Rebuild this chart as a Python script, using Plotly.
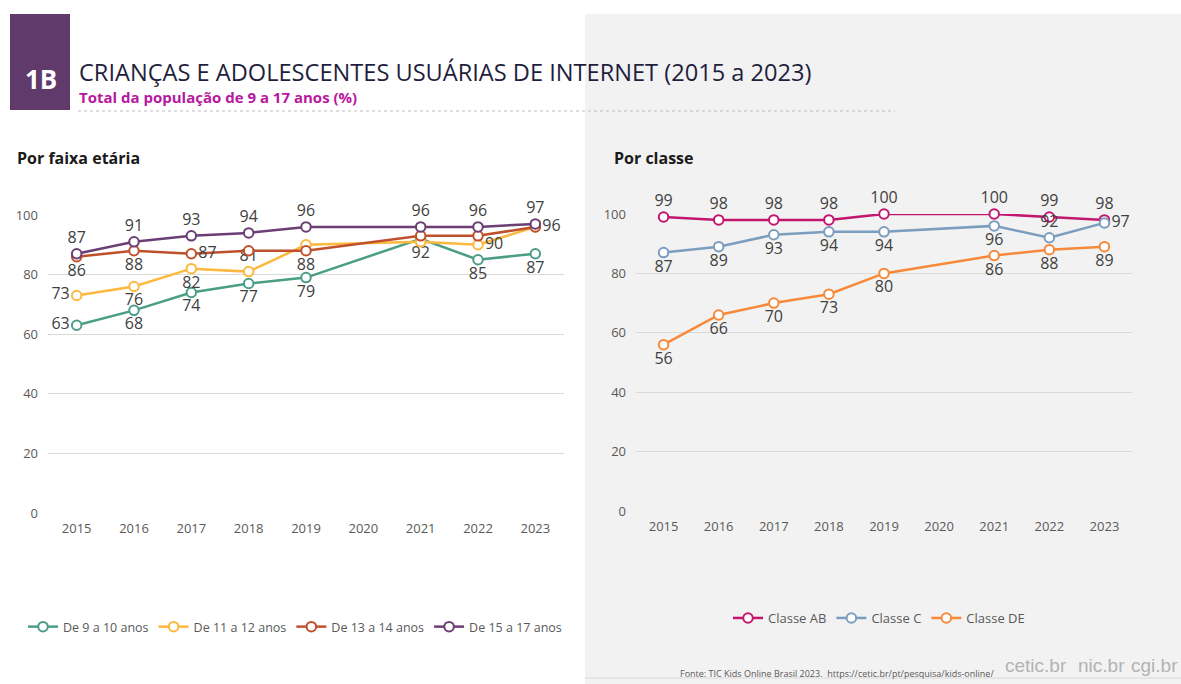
import plotly.graph_objects as go

W, H = 1181, 684

years = [2015, 2016, 2017, 2018, 2019, 2020, 2021, 2022, 2023]

idade_9_10 = [63, 68, 74, 77, 79, None, 92, 85, 87]
idade_11_12 = [73, 76, 82, 81, 90, None, 91, 90, 96]
idade_13_14 = [86, 88, 87, 88, 88, None, 93, 93, 96]
idade_15_17 = [87, 91, 93, 94, 96, None, 96, 96, 97]

classe_ab = [99, 98, 98, 98, 100, None, 100, 99, 98]
classe_c = [87, 89, 93, 94, 94, None, 96, 92, 97]
classe_de = [56, 66, 70, 73, 80, None, 86, 88, 89]

names_idade = ["De 9 a 10 anos", "De 11 a 12 anos", "De 13 a 14 anos", "De 15 a 17 anos"]
names_classe = ["Classe AB", "Classe C", "Classe DE"]

y_ticks = [0, 20, 40, 60, 80, 100]

FONT = "Open Sans, Noto Sans, DejaVu Sans, sans-serif"
LOGO = "Liberation Sans, Arial, sans-serif"


def px(x):
    return x / W


def py(y):
    return 1 - y / H


B, T, L, R, N = "bottom center", "top center", "middle left", "middle right", None

left_series = [
    (idade_9_10, "#4a9e86", [L, B, B, B, B, N, B, B, B], [1, 1, 1, 1, 1, 0, 1, 1, 1]),
    (idade_11_12, "#fdb83e", [L, B, B, T, B, N, B, R, B], [1, 1, 1, 1, 0, 0, 0, 1, 0]),
    (idade_13_14, "#c0502c", [B, B, R, B, B, N, B, B, R], [1, 1, 1, 0, 1, 0, 0, 0, 1]),
    (idade_15_17, "#6b3e74", [T] * 9, [1, 1, 1, 1, 1, 0, 1, 1, 1]),
]
right_series = [
    (classe_ab, "#c2166e", [T] * 9, [1, 1, 1, 1, 1, 0, 1, 1, 1]),
    (classe_c, "#7b9dbe", [B, B, B, B, B, N, B, T, R], [1, 1, 1, 1, 1, 0, 1, 1, 1]),
    (classe_de, "#f7893b", [B] * 9, [1, 1, 1, 1, 1, 0, 1, 1, 1]),
]

fig = go.Figure()


def add_series(series, names, xa, ya, lg):
    for (vals, color, pos, show), name in zip(series, names):
        texts = [str(v) if (v is not None and s) else "" for v, s in zip(vals, show)]
        fig.add_trace(go.Scatter(
            x=years, y=vals, name=name, mode="lines+markers+text",
            text=texts, textposition=[p if p else "top center" for p in pos],
            textfont=dict(size=16, color="#404040", family=FONT),
            line=dict(color=color, width=2.5),
            marker=dict(symbol="circle", size=9.5, color="white", line=dict(color=color, width=2)),
            connectgaps=True, cliponaxis=False, xaxis=xa, yaxis=ya, legend=lg,
        ))


add_series(left_series, names_idade, "x", "y", "legend")
add_series(right_series, names_classe, "x2", "y2", "legend2")

xcommon = dict(tickvals=years, ticktext=[str(y) for y in years], range=[2014.5, 2023.5],
               showgrid=False, zeroline=False, showline=False, ticks="", automargin=False,
               tickfont=dict(size=13, color="#595959", family=FONT), ticklabelstandoff=6,
               fixedrange=True)
ycommon = dict(tickvals=y_ticks, range=[0, 100], showgrid=True, gridcolor="#d9d9d9", gridwidth=1,
               zeroline=False, showline=False, ticks="", automargin=False,
               tickfont=dict(size=13, color="#595959", family=FONT), ticklabelstandoff=9,
               fixedrange=True)

fig.update_layout(
    width=W, height=H,
    margin=dict(l=0, r=0, t=0, b=0, pad=0),
    paper_bgcolor="white", plot_bgcolor="rgba(0,0,0,0)",
    font=dict(family=FONT, color="#404040"),
    xaxis=dict(domain=[px(48), px(564)], anchor="y", **xcommon),
    yaxis=dict(domain=[py(513), py(215)], anchor="x", **ycommon),
    xaxis2=dict(domain=[px(636), px(1132)], anchor="y2", **xcommon),
    yaxis2=dict(domain=[py(511), py(214)], anchor="x2", **ycommon),
    legend=dict(orientation="h", x=px(295), y=py(627), xanchor="center", yanchor="middle",
                font=dict(size=12.5, color="#595959", family=FONT), bgcolor="rgba(0,0,0,0)",
                itemwidth=30),
    legend2=dict(orientation="h", x=px(879), y=py(618), xanchor="center", yanchor="middle",
                 font=dict(size=13, color="#595959", family=FONT), bgcolor="rgba(0,0,0,0)",
                 itemwidth=30),
    showlegend=True,
)

shapes = [
    dict(type="rect", xref="paper", yref="paper", x0=px(585), x1=1, y0=0, y1=py(14),
         fillcolor="#f2f2f2", line=dict(width=0), layer="below"),
    dict(type="line", xref="paper", yref="paper", x0=px(585), x1=1, y0=py(678), y1=py(678),
         line=dict(color="#e2e2e2", width=1.5), layer="below"),
    dict(type="rect", xref="paper", yref="paper", x0=px(10), x1=px(70), y0=py(110), y1=py(14),
         fillcolor="#5f3a6b", line=dict(width=0)),
    dict(type="line", xref="paper", yref="paper", x0=px(78), x1=px(895), y0=py(111), y1=py(111),
         line=dict(color="#bfbfbf", width=1, dash="dot")),
]

annotations = [
    dict(text="<b>1B</b>", x=px(41), y=py(79), xref="paper", yref="paper", showarrow=False,
         xanchor="center", yanchor="middle", font=dict(size=26, color="white", family=FONT)),
    dict(text="CRIANÇAS E ADOLESCENTES USUÁRIAS DE INTERNET (2015 a 2023)", x=px(77), y=py(72),
         xref="paper", yref="paper", showarrow=False, xanchor="left", yanchor="middle",
         font=dict(size=23.6, color="#1f1f3d", family=FONT)),
    dict(text="<b>Total da população de 9 a 17 anos (%)</b>", x=px(77), y=py(97),
         xref="paper", yref="paper", showarrow=False, xanchor="left", yanchor="middle",
         font=dict(size=15, color="#b8189e", family=FONT)),
    dict(text="<b>Por faixa etária</b>", x=px(15), y=py(158), xref="paper", yref="paper",
         showarrow=False, xanchor="left", yanchor="middle",
         font=dict(size=16, color="#1a1a1a", family=FONT)),
    dict(text="<b>Por classe</b>", x=px(612), y=py(158), xref="paper", yref="paper",
         showarrow=False, xanchor="left", yanchor="middle",
         font=dict(size=16, color="#1a1a1a", family=FONT)),
    dict(text="Fonte: TIC Kids Online Brasil 2023.  https://cetic.br/pt/pesquisa/kids-online/",
         x=px(678), y=py(673), xref="paper", yref="paper", showarrow=False,
         xanchor="left", yanchor="middle", font=dict(size=9, color="#595959", family=FONT)),
    dict(text="cetic.br", x=px(1003), y=py(665), xref="paper", yref="paper",
         showarrow=False, xanchor="left", yanchor="middle",
         font=dict(size=19, color="#b3b3b3", family=LOGO)),
    dict(text="nic.br", x=px(1076), y=py(665), xref="paper", yref="paper",
         showarrow=False, xanchor="left", yanchor="middle",
         font=dict(size=19, color="#b3b3b3", family=LOGO)),
    dict(text="cgi.br", x=px(1180), y=py(665), xref="paper", yref="paper",
         showarrow=False, xanchor="right", yanchor="middle",
         font=dict(size=19, color="#b3b3b3", family=LOGO)),
]

fig.update_layout(shapes=shapes, annotations=annotations)

fig.write_html(
    "out.html",
    config={"displayModeBar": False},
    post_script="document.body.style.margin='0px';document.documentElement.style.overflow='hidden';",
)
